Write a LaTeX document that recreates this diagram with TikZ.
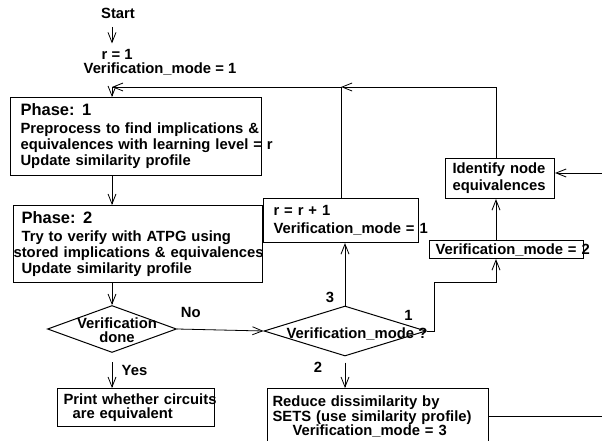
\documentclass[tikz,border=0pt]{standalone}
\usepackage{fontspec}
\setmainfont{Liberation Sans}
\usetikzlibrary{arrows.meta,shapes.geometric}
\newcommand\flowfont{\bfseries\fontsize{14.8}{16}\selectfont}
\newcommand\phasefont{\bfseries\fontsize{16.5}{18}\selectfont}

\begin{document}
\begin{tikzpicture}[x=1pt,y=-1pt,>={Straight Barb[length=10pt,width=8pt]},every node/.style={font=\flowfont}]
\tikzset{box/.style={draw,line width=1.1pt,anchor=north west,align=left,inner ysep=2pt},decision/.style={diamond,draw,line width=1pt,inner sep=0pt},link/.style={->,line width=0.8pt}}
\useasboundingbox (0,0) rectangle (602,441);
\clip (0,0) rectangle (602,441);
\node (start) at (118,13) {Start};
\node[align=left,font=\bfseries\fontsize{14.8}{14}\selectfont] (init) at (160,62) {\hspace*{18pt}r = 1\\Verification\_mode = 1};
\node[box,text width=231pt,inner xsep=10pt,minimum height=78pt] (phase1) at (10,97) {{\phasefont Phase: 1}\\[2pt]\mbox{Preprocess to find implications \&}\\\mbox{equivalences with learning level = r}\\Update similarity profile};
\node[box,text width=233pt,inner xsep=8pt,minimum height=77pt] (phase2) at (13,205) {{\phasefont Phase: 2}\\[2pt]\mbox{Try to verify with ATPG using}\\\hspace*{-8pt}\mbox{stored implications \& equivalences}\\Update similarity profile};
\node[box,text width=135pt,inner xsep=10pt,minimum height=44pt] (incr) at (263,198) {r = r + 1\\[2pt]\mbox{Verification\_mode = 1}};
\node[box,text width=95pt,inner xsep=7pt,minimum height=40pt] (ident) at (445,158) {\mbox{Identify node}\\[1pt]equivalences};
\node[box,text width=142pt,inner xsep=6pt,minimum height=18pt] (mode2) at (429,240) {\mbox{Verification\_mode = 2}};
\node[box,text width=145pt,inner xsep=6pt,minimum height=38pt,font=\bfseries\fontsize{14.8}{14}\selectfont] (print) at (57,388) {\mbox{Print whether circuits}\\\hspace*{9pt}are equivalent};
\node[box,text width=211pt,inner xsep=5pt,minimum height=56pt,font=\bfseries\fontsize{14.8}{14.5}\selectfont] (reduce) at (267,388) {\mbox{Reduce dissimilarity by}\\\mbox{SETS (use similarity profile)}\\\hspace*{20pt}Verification\_mode = 3};
\node[decision,minimum width=129pt,minimum height=47pt,label={[align=center,font=\bfseries\fontsize{14.8}{14.5}\selectfont,xshift=5pt,yshift=-1pt]center:Verification\\done}] (done) at (112,329) {};
\node[decision,minimum width=162pt,minimum height=50pt,label={[xshift=12pt,yshift=-3pt]center:Verification\_mode ?}] (mode) at (345,331) {};
\coordinate (entry) at (112,87);
\coordinate (rail) at (496,87);
\coordinate (bend) at (434,282);
\coordinate (inR) at (602,173);
% main column
\draw[link,shorten <=5pt,shorten >=2pt] (start.south -| entry) -- (entry |- init.north);
\draw[link] (entry) -- (entry |- phase1.north);
\draw[link] (entry |- phase1.south) -- (entry |- phase2.north);
\draw[link] (entry |- phase2.south) -- (done.north);
\draw[link,shorten <=9pt] (done.south) -- node[right=6pt]{Yes} (done.south |- print.north);
\draw[link] (done.east) -- node[pos=0.16,above=8pt]{No} (mode.west);
% branches of the mode test
\draw[link] (mode.north) -- node[at start,xshift=-15pt,yshift=8.5pt]{3} (mode.north |- incr.south);
\draw[link,shorten <=6pt] (mode.south) -- node[at start,xshift=-27pt,yshift=-10.5pt]{2} (mode.south |- reduce.north);
\draw[link] (mode.east) -| node[at start,xshift=-18pt,yshift=15.5pt]{1} (bend) -| (rail |- mode2.south);
\draw[link] (rail |- mode2.north) -- (rail |- ident.south);
% loops back to phase 1
\draw[link] (rail |- ident.north) |- (incr.north |- entry);
\draw[link] (incr.north) |- (entry);
\draw[link] (inR) -- (inR -| ident.east);
\draw[line width=0.8pt] (reduce.east) -- (reduce.east -| inR);
\end{tikzpicture}
\end{document}
